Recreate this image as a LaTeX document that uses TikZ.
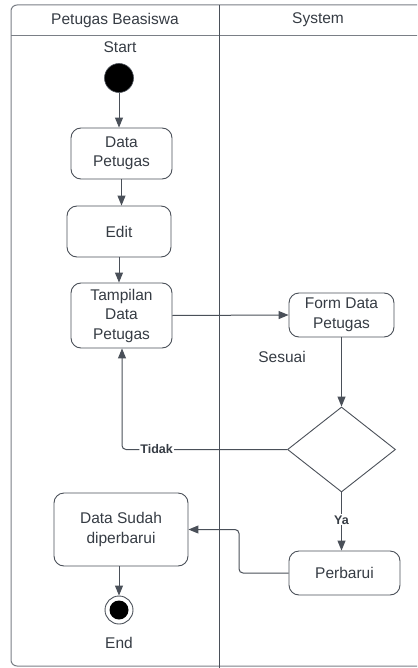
\documentclass[tikz,border=0pt]{standalone}
\usepackage{fontspec}
\setmainfont{Liberation Sans}
\usetikzlibrary{shapes.geometric,arrows.meta}
\definecolor{ink}{HTML}{363C44}
\definecolor{edge}{HTML}{4A5059}
\definecolor{frame}{HTML}{7A7F86}
\tikzset{
  txt/.style={text=ink, font=\fontsize{15.5}{19.5}\selectfont, align=center, inner sep=0pt},
  act/.style={txt, draw=edge, line width=0.9pt, rounded corners=10pt, fill=white},
  decision/.style={draw=edge, line width=0.9pt, diamond, fill=white, inner sep=0pt},
  startdot/.style={circle, fill=black, draw=edge, line width=0.6pt, minimum size=29pt, inner sep=0pt},
  enddot/.style={circle, draw=edge, line width=0.9pt, fill=white, minimum size=28pt, inner sep=0pt,
    path picture={\fill[black] (path picture bounding box.center) circle (9.5pt);}},
  arr/.style={draw=edge, line width=1pt, -{Triangle[length=10pt,width=8pt]}},
  guard/.style={text=ink, font=\bfseries\fontsize{12.5}{14}\selectfont, fill=white, inner sep=1pt},
  lane/.style={draw=frame, line width=1pt},
}
\begin{document}
\begin{tikzpicture}[x=1pt, y=-1pt]
\useasboundingbox (0,0) rectangle (417,668);
\clip (0,0) rectangle (417,668);
\fill[white] (0,0) rectangle (417,668);

% swimlane frame
\draw[lane, rounded corners=6pt] (11,5) rectangle (440,666);
\draw[lane] (11,36) -- (440,36);
\draw[draw=edge, line width=1pt] (219,5) -- (219,668);
\node[txt] (laneA) at (115,20) {Petugas Beasiswa};
\node[txt] (laneB) at (318,20) {System};

% activities
\node[txt] (startlbl) at (120,47) {Start};
\node[startdot] (start) at (119,78) {};
\node[act, minimum width=101pt, minimum height=51pt] (dp) at (121.5,153.5) {Data\\Petugas};
\node[act, minimum width=104pt, minimum height=51pt] (edit) at (119,231.5) {Edit};
\node[act, minimum width=101pt, minimum height=65pt] (tamp) at (121.5,315.5) {Tampilan\\Data\\Petugas};
\node[act, minimum width=105pt, minimum height=44pt] (form) at (341.5,315) {Form Data\\Petugas};
\node[txt] (sesuai) at (282,357) {Sesuai};
\node[decision, minimum width=108pt, minimum height=85pt] (dec) at (341.5,449.5) {};
\node[act, minimum width=111pt, minimum height=44pt] (perb) at (344.5,573) {Perbarui};
\node[act, minimum width=134pt, minimum height=73pt] (sudah) at (121,529.5) {Data Sudah\\diperbarui};
\node[enddot] (end) at (119,610) {};
\node[txt] (endlbl) at (119,643) {End};

\coordinate (tk) at (122,449.5);
\coordinate (pk) at (239,0);

% connectors
\draw[arr] (start) -- (start |- dp.north);
\draw[arr] (dp) -- (dp |- edit.north);
\draw[arr] (edit) -- (edit |- tamp.north);
\draw[arr] (tamp.east) -- (form.west);
\draw[arr] (form.south) -- (dec.north);
\draw[arr, rounded corners=4pt] (dec.west) -- node[guard, pos=0.79] (tidak) {Tidak} (tk) -- (tk |- tamp.south);
\draw[arr] (dec.south) -- node[guard, pos=0.47] (ya) {Ya} (dec.south |- perb.north);
\draw[arr, rounded corners=4pt] (perb.west) -| (pk |- sudah.east) -- (sudah.east);
\draw[arr] (end |- sudah.south) -- (end.north);
\end{tikzpicture}
\end{document}
